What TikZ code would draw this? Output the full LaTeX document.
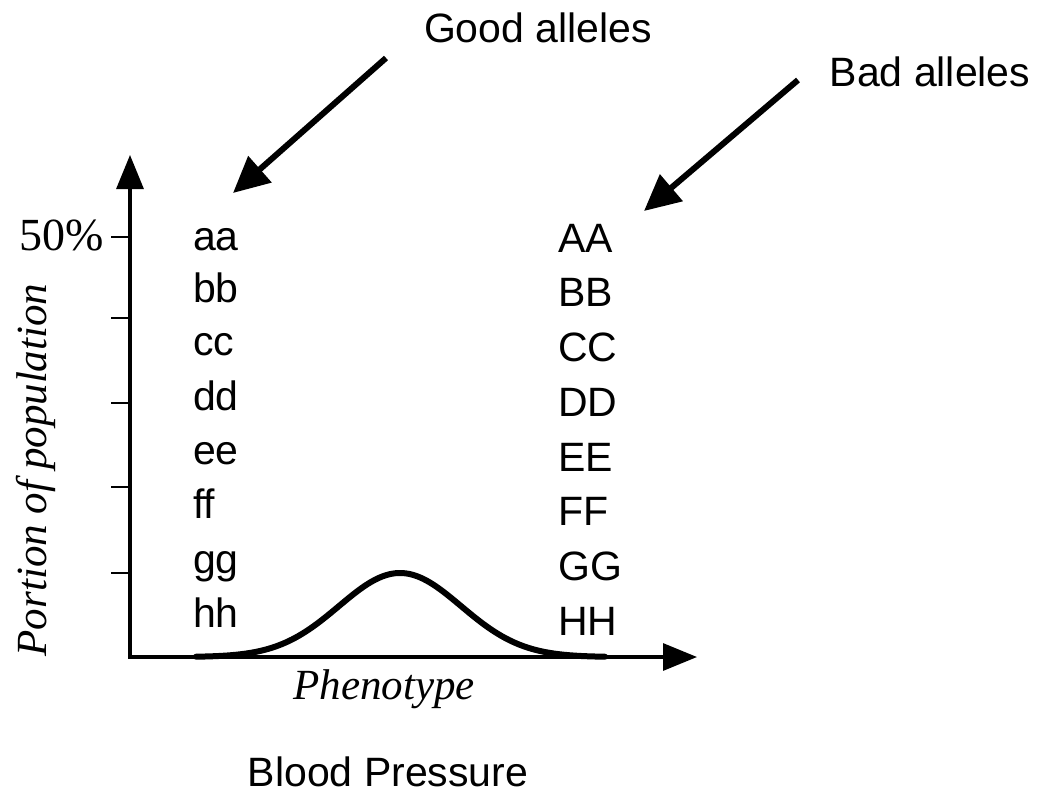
\documentclass[tikz,border=0pt]{standalone}
\usepackage{fontspec}
\setmainfont{Liberation Sans}[Ligatures=NoCommon]
\newfontfamily\serifit{Liberation Serif}
\usetikzlibrary{arrows.meta}
\begin{document}
\begin{tikzpicture}[x=1pt,y=-1pt,
  lab/.style={inner sep=0pt,font=\fontsize{41}{49}\selectfont},
  gen/.style={inner sep=0pt,anchor=base west,font=\fontsize{41}{49}\selectfont},
  axlab/.style={inner sep=0pt,font=\serifit\itshape\fontsize{43}{50}\selectfont},
  axis/.style={line width=3.2pt,-{Triangle[length=34pt,width=27pt]}},
  tick/.style={line width=2.8pt},
  pointer/.style={line width=6pt,-{Triangle[length=36pt,width=34pt]}}]
\useasboundingbox[fill=white] (0,0) rectangle (1058,801);
% axes
\coordinate (o) at (130,657);
\coordinate (ytip) at (130,155);
\coordinate (xtip) at (697,657);
\draw[axis] (130,658.6) -- (ytip);
\draw[axis] (128.4,657) -- (xtip);
\foreach \yy/\nm in {237/t1,318/t2,403/t3,487/t4,573/t5}{
  \coordinate (\nm) at (130,\yy);
  \draw[tick] (\nm) -- ++(-19,0);
}
\node[inner sep=0pt,anchor=east,font=\serifit\fontsize{46}{52}\selectfont] (p50) at (104,236) {50\%};
\node[axlab,rotate=90] (ylab) at (36,470) {Portion of population};
\node[axlab] (xlab) at (384,689) {Phenotype};
% curve
\draw[line width=6pt,line cap=round] plot[domain=196:605,samples=120,smooth] (\x,{657-84*exp(-((\x-400)/61)^2/2)});
% genotype lists
\foreach \t/\yy in {aa/250,bb/302,cc/355,dd/410,ee/464,ff/518,gg/573,hh/627}{
  \node[gen] (l\t) at (193,\yy) {\t};
}
\foreach \t/\yy in {AA/252,BB/306,CC/361,DD/416,EE/471,FF/525,GG/580,HH/635}{
  \node[gen] (u\t) at (558,\yy) {\t};
}
% labels
\node[lab] (good) at (538,28) {Good alleles};
\node[lab] (bad) at (930,72) {Bad alleles};
\node[lab] (bp) at (388,772) {Blood Pressure};
\coordinate (g0) at (386,58);
\coordinate (g1) at (233,193);
\coordinate (b0) at (798,80);
\coordinate (b1) at (644,211);
\draw[pointer] (g0) -- (g1);
\draw[pointer] (b0) -- (b1);
\end{tikzpicture}
\end{document}
